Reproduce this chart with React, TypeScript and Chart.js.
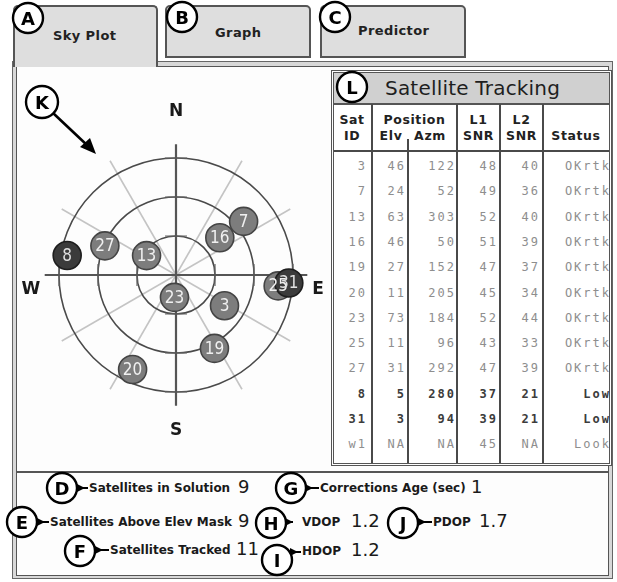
import React, { useEffect, useRef } from 'react';
import { Chart, registerables } from 'chart.js';
Chart.register(...registerables);

// ---- data ----
const satLabels = ['3', '7', '13', '16', '19', '20', '23', '25', '27', '8', '31', 'w1'];
const elevation: (number | null)[] = [46, 24, 63, 46, 27, 11, 73, 11, 31, 5, 3, null];
const azimuth: (number | null)[] = [122, 52, 303, 50, 152, 205, 184, 96, 292, 280, 94, null];
const l1Snr: (number | null)[] = [48, 49, 52, 51, 47, 45, 52, 43, 47, 37, 39, 45];
const l2Snr: (number | null)[] = [40, 36, 40, 39, 37, 34, 44, 33, 39, 21, 21, null];
const statusText = ['OKrtk', 'OKrtk', 'OKrtk', 'OKrtk', 'OKrtk', 'OKrtk', 'OKrtk', 'OKrtk', 'OKrtk', 'Low', 'Low', 'Look'];
const elevationRings = [0, 30, 60];
const spokeAngles = [30, 60, 120, 150, 210, 240, 300, 330];
const compassLabels = ['N', 'E', 'S', 'W'];

const solutionLabels = ['Satellites in Solution', 'Satellites Above Elev Mask', 'Satellites Tracked', 'Corrections Age (sec)', 'VDOP', 'PDOP', 'HDOP'];
const solutionValues = ['9', '9', '11', '1', '1.2', '1.7', '1.2'];

// ---- layout ----
const CX = 176, CY = 275, RING = 130;
const CV = { left: 20, top: 95, width: 312, height: 360 };
const XR = (CV.width / 2 / RING) * 90;
const YR = ((CY - CV.top) / RING) * 90;

const lowStatus = (s: string) => s === 'Low';

function SkyPlot() {
  const ref = useRef<HTMLCanvasElement>(null);
  useEffect(() => {
    const pts: { x: number; y: number }[] = [];
    const lbls: string[] = [];
    const dark: boolean[] = [];
    satLabels.forEach((s, i) => {
      const e = elevation[i], a = azimuth[i];
      if (e == null || a == null) return;
      const r = 90 - e;
      const t = (a * Math.PI) / 180;
      pts.push({ x: r * Math.sin(t), y: r * Math.cos(t) });
      lbls.push(s);
      dark.push(lowStatus(statusText[i]));
    });

    const grid = {
      id: 'skyGrid',
      beforeDatasetsDraw(chart: any) {
        const ctx = chart.ctx;
        const xs = chart.scales.x, ys = chart.scales.y;
        const cx = xs.getPixelForValue(0), cy = ys.getPixelForValue(0);
        const k = (xs.getPixelForValue(90) - cx) / 90;
        ctx.save();
        // light spokes
        ctx.strokeStyle = '#c4c4c4';
        ctx.lineWidth = 1.6;
        spokeAngles.forEach((a) => {
          const t = (a * Math.PI) / 180;
          ctx.beginPath();
          ctx.moveTo(cx, cy);
          ctx.lineTo(cx + 101.5 * k * Math.sin(t), cy - 101.5 * k * Math.cos(t));
          ctx.stroke();
        });
        // rings
        ctx.strokeStyle = '#4a4a4a';
        ctx.lineWidth = 1.6;
        elevationRings.forEach((e) => {
          const r = (90 - e) * k;
          ctx.beginPath();
          ctx.arc(cx, cy, r, 0, Math.PI * 2);
          ctx.stroke();
        });
        // subtle flat ticks at cardinal crossings
        ctx.strokeStyle = '#666';
        ctx.lineWidth = 1.2;
        elevationRings.forEach((e) => {
          const r = (90 - e) * k;
          const h = 11;
          ctx.beginPath();
          ctx.moveTo(cx - h, cy - r); ctx.lineTo(cx + h, cy - r);
          ctx.moveTo(cx - h, cy + r); ctx.lineTo(cx + h, cy + r);
          ctx.moveTo(cx - r, cy - h); ctx.lineTo(cx - r, cy + h);
          ctx.moveTo(cx + r, cy - h); ctx.lineTo(cx + r, cy + h);
          ctx.stroke();
        });
        // main cross
        ctx.strokeStyle = '#555';
        ctx.lineWidth = 2.2;
        ctx.beginPath();
        ctx.moveTo(cx, cy - 100.5 * k); ctx.lineTo(cx, cy + 100.5 * k);
        ctx.moveTo(cx - 101 * k, cy); ctx.lineTo(cx + 101 * k, cy);
        ctx.stroke();
        // compass labels
        ctx.fillStyle = '#1a1a1a';
        ctx.font = 'bold 17px "DejaVu Sans"';
        ctx.textAlign = 'center';
        ctx.textBaseline = 'middle';
        const lp: Record<string, [number, number]> = {
          N: [cx, cy - 163], S: [cx, cy + 156], W: [cx - 145, cy + 15], E: [cx + 142, cy + 15],
        };
        compassLabels.forEach((c) => ctx.fillText(c, lp[c][0], lp[c][1]));
        ctx.restore();
      },
      afterDatasetsDraw(chart: any) {
        const ctx = chart.ctx;
        const meta = chart.getDatasetMeta(0);
        ctx.save();
        ctx.font = '17px "DejaVu Sans Condensed", "DejaVu Sans"';
        ctx.textAlign = 'center';
        ctx.textBaseline = 'middle';
        meta.data.forEach((el: any, i: number) => {
          ctx.fillStyle = dark[i] ? '#e0e0e0' : '#f0f0f0';
          ctx.fillText(lbls[i], el.x, el.y + 1);
        });
        ctx.restore();
      },
    };

    const chart = new Chart(ref.current!, {
      type: 'scatter',
      data: {
        datasets: [
          {
            data: pts,
            pointRadius: 14,
            pointHoverRadius: 14,
            borderWidth: 1.6,
            backgroundColor: dark.map((d) => (d ? '#3b3b3b' : '#7d7d7d')),
            borderColor: dark.map((d) => (d ? '#1e1e1e' : '#444')),
            clip: false as any,
          },
        ],
      },
      options: {
        animation: false,
        responsive: false,
        events: [],
        layout: { padding: 0 },
        plugins: { legend: { display: false }, tooltip: { enabled: false } },
        scales: {
          x: { type: 'linear', min: -XR, max: XR, display: false },
          y: { type: 'linear', min: -YR, max: YR, display: false },
        },
      },
      plugins: [grid],
    });
    return () => chart.destroy();
  }, []);
  return (
    <canvas
      ref={ref}
      width={CV.width}
      height={CV.height}
      style={{ position: 'absolute', left: CV.left, top: CV.top, width: CV.width, height: CV.height }}
    />
  );
}

const abs = (s: React.CSSProperties): React.CSSProperties => ({ position: 'absolute', ...s });

function Callout({ x, y, t, r = 15 }: { x: number; y: number; t: string; r?: number }) {
  return (
    <g>
      <circle cx={x} cy={y} r={r} fill="#fff" stroke="#000" strokeWidth={2.4} />
      <text x={x} y={y + 6.5} textAnchor="middle" fontFamily="DejaVu Sans" fontWeight="bold" fontSize={18} fill="#000">
        {t}
      </text>
    </g>
  );
}

function Pointer({ x, y, to }: { x: number; y: number; to: number }) {
  return (
    <g>
      <polygon points={`${x},${y - 4} ${x},${y + 4} ${x + 8},${y}`} fill="#000" />
      <line x1={x + 6} y1={y} x2={to} y2={y} stroke="#000" strokeWidth={2} />
    </g>
  );
}

function Tab({ left, width, top, height, active, label, lx, ly }: any) {
  return (
    <>
      <div
        style={abs({
          left, top, width, height, boxSizing: 'border-box', background: '#dedede',
          border: '2px solid #555', borderBottom: active ? 'none' : '2px solid #555',
          borderRadius: '5px 5px 0 0', zIndex: active ? 3 : 1,
        })}
      />
      <div style={abs({ left: lx, top: ly - 9, fontFamily: 'DejaVu Sans', fontWeight: 'bold', fontSize: 13, letterSpacing: 0.4, color: '#222', zIndex: 4, lineHeight: '18px' })}>
        {label}
      </div>
    </>
  );
}

const colLines = [372, 457, 500, 543];
const cellRight = [365, 404, 454, 496, 538, 609];

function Table() {
  const rowY = (i: number) => 166 + i * 25.3;
  const cells = (i: number) => [
    satLabels[i],
    elevation[i] == null ? 'NA' : String(elevation[i]),
    azimuth[i] == null ? 'NA' : String(azimuth[i]),
    l1Snr[i] == null ? 'NA' : String(l1Snr[i]),
    l2Snr[i] == null ? 'NA' : String(l2Snr[i]),
    statusText[i],
  ];
  const hdr: React.CSSProperties = { fontFamily: 'DejaVu Sans', fontWeight: 'bold', fontSize: 12.5, color: '#222', letterSpacing: 0.6, lineHeight: '16px', textAlign: 'center' };
  return (
    <>
      <div style={abs({ left: 331, top: 70, width: 281, height: 396, boxSizing: 'border-box', border: '3px double #555', background: '#fff', zIndex: 5 })} />
      <div style={abs({ left: 334, top: 73, width: 275, height: 30, background: '#d0d0d0', borderBottom: '2px solid #555', zIndex: 6 })} />
      <div style={abs({ left: 385, top: 74, fontFamily: 'DejaVu Sans', fontSize: 20, letterSpacing: 0.2, color: '#1e1e1e', lineHeight: '28px', zIndex: 7 })}>
        Satellite Tracking
      </div>
      {colLines.map((x) => (
        <div key={x} style={abs({ left: x - 1, top: 104, width: 2, height: 359, background: '#4a4a4a', zIndex: 6 })} />
      ))}
      <div style={abs({ left: 407, top: 139, width: 1.5, height: 324, background: '#4a4a4a', zIndex: 6 })} />
      <div style={abs({ left: 334, top: 150, width: 275, height: 2, background: '#4a4a4a', zIndex: 6 })} />
      <div style={abs({ ...hdr, left: 332, width: 40, top: 112, zIndex: 7 })}>Sat<br />ID</div>
      <div style={abs({ ...hdr, left: 372, width: 85, top: 112, zIndex: 7 })}>Position</div>
      <div style={abs({ ...hdr, left: 375, width: 32, top: 128, zIndex: 7 })}>Elv</div>
      <div style={abs({ ...hdr, left: 411, width: 38, top: 128, zIndex: 7 })}>Azm</div>
      <div style={abs({ ...hdr, left: 457, width: 43, top: 112, zIndex: 7 })}>L1<br />SNR</div>
      <div style={abs({ ...hdr, left: 500, width: 43, top: 112, zIndex: 7 })}>L2<br />SNR</div>
      <div style={abs({ ...hdr, left: 543, width: 66, top: 128, zIndex: 7 })}>Status</div>
      {satLabels.map((_, i) => {
        const bold = lowStatus(statusText[i]);
        return cells(i).map((c, j) => (
          <div
            key={i + '-' + j}
            style={abs({
              right: 617 - cellRight[j] - 2, top: rowY(i) - 8, lineHeight: '16px',
              fontFamily: '"DejaVu Sans Mono"', fontSize: 12, letterSpacing: 2,
              color: bold ? '#3c3c3c' : '#8e8e8e', fontWeight: bold ? 'bold' : 'normal', zIndex: 7, whiteSpace: 'nowrap',
            })}
          >
            {c}
          </div>
        ));
      })}
    </>
  );
}

function Info() {
  const lab: React.CSSProperties = { fontFamily: 'DejaVu Sans', fontWeight: 'bold', fontSize: 12, color: '#1a1a1a', lineHeight: '16px', whiteSpace: 'nowrap' };
  const val: React.CSSProperties = { fontFamily: 'DejaVu Sans', fontSize: 18, color: '#1a1a1a', lineHeight: '22px', whiteSpace: 'nowrap' };
  const items = [
    { lx: 89, y: 488, vx: 238 },
    { lx: 50, y: 522, vx: 238 },
    { lx: 110, y: 550, vx: 236 },
    { lx: 320, y: 488, vx: 471 },
    { lx: 302, y: 522, vx: 351 },
    { lx: 433, y: 522, vx: 479 },
    { lx: 302, y: 551, vx: 351 },
  ];
  return (
    <>
      {items.map((it, i) => (
        <React.Fragment key={i}>
          <div style={abs({ ...lab, left: it.lx, top: it.y - 8, zIndex: 7 })}>{solutionLabels[i]}</div>
          <div style={abs({ ...val, left: it.vx, top: it.y - 12, zIndex: 7 })}>{solutionValues[i]}</div>
        </React.Fragment>
      ))}
    </>
  );
}

export default function App() {
  return (
    <div style={{ position: 'fixed', left: 0, top: 0, width: 617, height: 582, background: '#fff', overflow: 'hidden' }}>
      {/* panel */}
      <div style={abs({ left: 12, top: 61, width: 601, height: 518, boxSizing: 'border-box', border: '1.5px solid #666', background: '#d8d8d8', zIndex: 2 })} />
      <div style={abs({ left: 16, top: 66, width: 593, height: 510, boxSizing: 'border-box', border: '1.5px solid #555', background: '#fdfdfd', zIndex: 2 })} />
      <div style={abs({ left: 17, top: 471, width: 591, height: 1.5, background: '#555', zIndex: 3 })} />
      <Tab left={13} width={145} top={5} height={62} active label="Sky Plot" lx={53} ly={36} />
      <Tab left={165} width={146} top={5} height={53} label="Graph" lx={215} ly={33} />
      <Tab left={320} width={146} top={5} height={53} label="Predictor" lx={358} ly={31} />
      <div style={abs({ left: 0, top: 0, zIndex: 4 })}>
        <SkyPlot />
      </div>
      <Table />
      <Info />
      <svg width={617} height={582} style={abs({ left: 0, top: 0, zIndex: 10, pointerEvents: 'none' })}>
        <Callout x={28} y={18} t="A" />
        <Callout x={182} y={17} t="B" />
        <Callout x={335} y={17} t="C" />
        <Callout x={42} y={102} t="K" r={16} />
        <line x1={53} y1={113} x2={88} y2={146} stroke="#000" strokeWidth={2.6} />
        <polygon points="96,154 80,147 90,138" fill="#000" />
        <Callout x={352} y={87} t="L" />
        <Pointer x={77} y={488} to={88} />
        <Callout x={62} y={488} t="D" />
        <Pointer x={37} y={522} to={49} />
        <Callout x={22} y={522} t="E" />
        <Pointer x={95} y={550} to={109} />
        <Callout x={80} y={551} t="F" />
        <Pointer x={305} y={488} to={319} />
        <Callout x={291} y={488} t="G" />
        <Pointer x={285} y={522} to={293} />
        <Callout x={271} y={523} t="H" />
        <Pointer x={418} y={522} to={432} />
        <Callout x={403} y={523} t="J" />
        <Pointer x={290} y={552} to={301} />
        <Callout x={277} y={560} t="I" />
      </svg>
    </div>
  );
}
